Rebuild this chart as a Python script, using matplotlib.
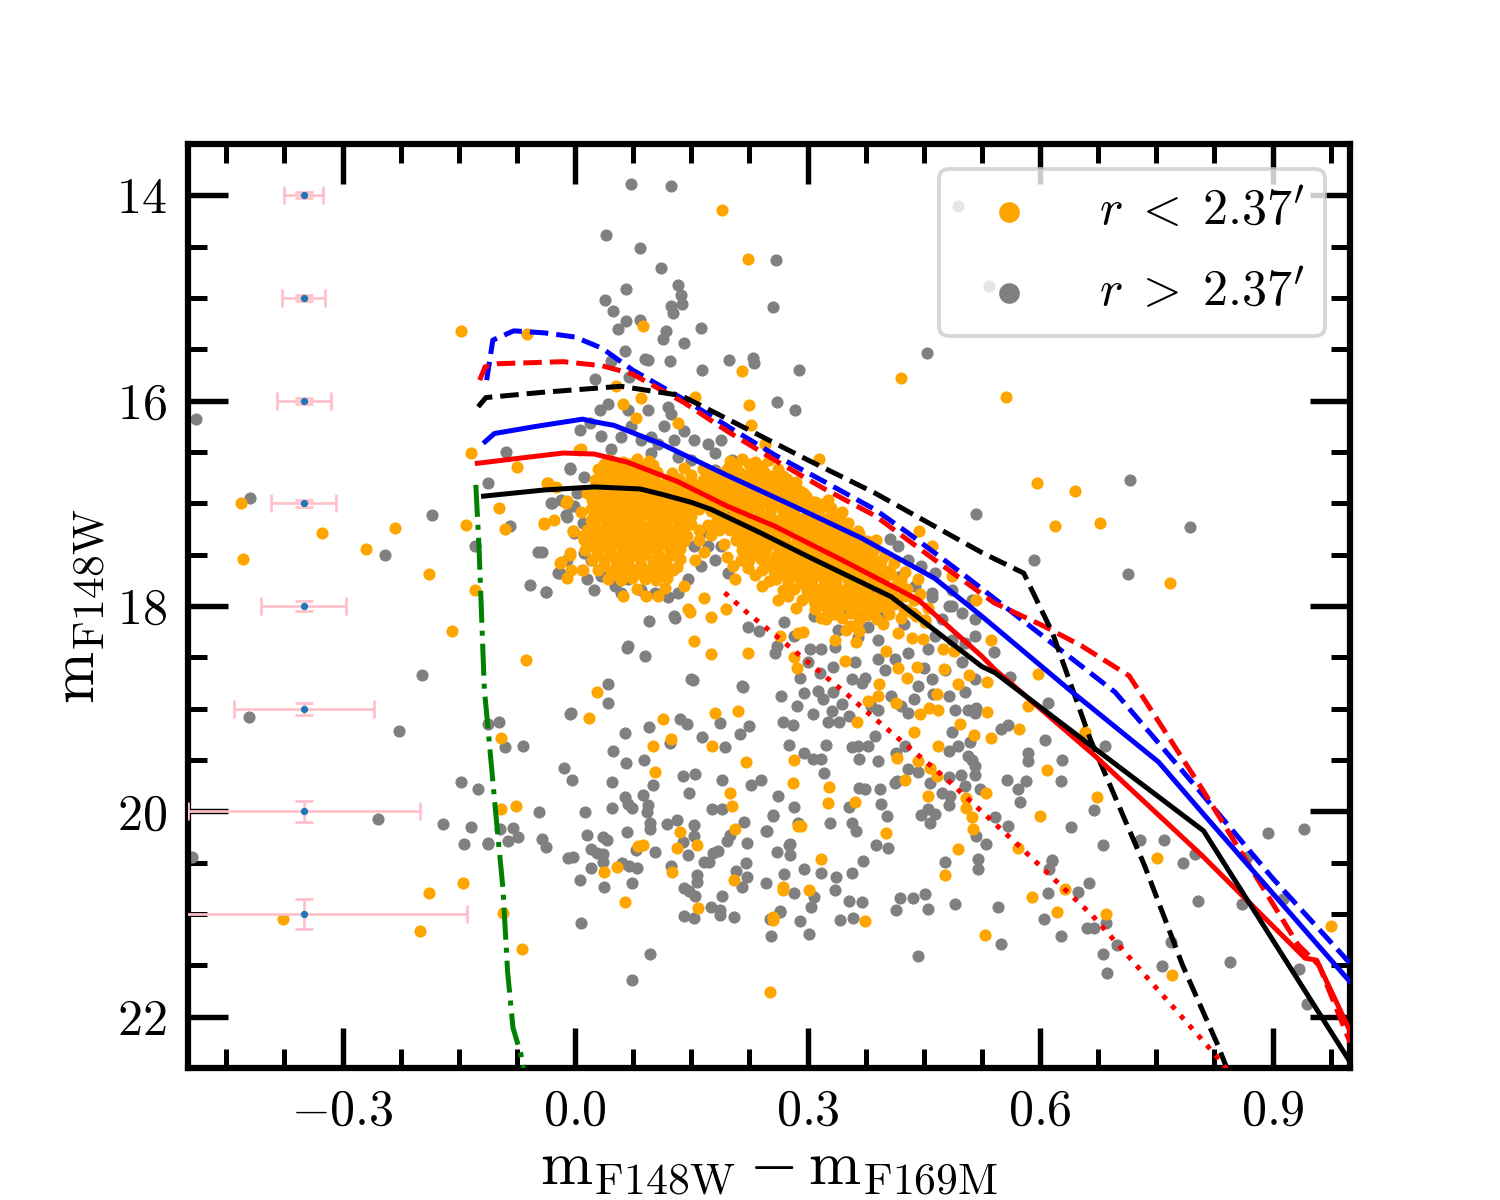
import numpy as np
import matplotlib
matplotlib.use("Agg")
import matplotlib.pyplot as plt
from matplotlib.ticker import MultipleLocator

plt.rcParams["font.family"] = "serif"
plt.rcParams["font.serif"] = ["cmr10"]
plt.rcParams["mathtext.fontset"] = "cm"
plt.rcParams["axes.formatter.use_mathtext"] = True

# ---- stars, r > 2.37' (gray) ----
gray_pts = [
    # upper part
    (0.072, 13.89), (0.124, 13.91), (0.040, 14.39), (0.084, 14.51), (0.111, 14.71), (0.133, 14.87),
    (0.137, 14.97), (0.138, 15.06), (0.124, 15.08), (0.127, 15.15), (0.066, 14.91), (0.039, 15.02),
    (0.049, 15.13), (0.066, 15.22), (0.056, 15.30), (0.084, 15.21), (0.118, 15.32), (0.114, 15.40),
    (0.140, 15.44), (0.163, 15.29), (0.259, 14.63), (0.255, 15.09), (0.064, 15.52), (0.046, 15.61),
    (0.090, 15.59), (0.094, 15.60), (0.123, 15.61), (0.164, 15.70), (0.199, 15.60), (0.230, 15.58),
    (0.231, 15.63), (0.289, 15.70), (0.454, 15.54), (0.026, 15.79), (0.070, 15.77), (0.261, 16.01),
    (0.284, 16.09), (0.494, 14.10), (0.534, 14.88),
    # right side
    (0.716, 16.77), (0.517, 17.10), (0.793, 17.23), (0.592, 17.55), (0.713, 17.69), (0.406, 17.35),
    (0.894, 20.21), (0.941, 20.17), (0.861, 20.90), (0.867, 20.44), (0.913, 20.85), (0.845, 21.47),
    (0.934, 21.54), (0.944, 21.88), (0.769, 21.27), (0.758, 21.51), (0.660, 21.14), (0.670, 21.14),
    (0.685, 21.09), (0.699, 21.30), (0.681, 21.39), (0.687, 21.57), (0.605, 21.05), (0.627, 21.21),
    (0.550, 21.29), (0.443, 21.41), (0.302, 21.19), (0.253, 21.21), (0.290, 21.07), (0.342, 21.06),
    (0.359, 21.04), (0.008, 21.09), (0.097, 21.39), (0.073, 21.64),
    # left side
    (-0.489, 16.18), (-0.089, 16.50), (-0.112, 16.80), (-0.420, 16.95), (-0.184, 17.11), (-0.245, 17.50),
    (-0.129, 17.42), (-0.084, 17.22), (-0.030, 17.00), (-0.010, 17.13), (-0.005, 17.03), (-0.048, 17.47),
    (-0.019, 17.68), (-0.058, 17.80), (-0.038, 17.86), (-0.007, 16.67), (-0.421, 19.08), (-0.227, 19.22),
    (-0.198, 18.67), (-0.254, 20.07), (-0.494, 20.44), (-0.112, 20.32),
    # lower left cloud
    (-0.112, 19.15), (-0.098, 19.13), (-0.090, 19.37), (-0.067, 19.36), (-0.014, 19.58), (-0.004, 19.69),
    (-0.147, 19.71), (-0.125, 19.78), (-0.046, 20.01), (-0.170, 20.12), (-0.134, 20.15), (-0.143, 20.32),
    (-0.112, 20.31), (-0.097, 20.17), (-0.080, 20.16), (-0.087, 20.29), (-0.073, 20.25), (-0.043, 20.27),
    (-0.037, 20.35), (0.013, 20.01), (0.048, 19.71), (0.048, 19.97), (0.064, 19.24), (0.095, 19.18),
    (0.066, 19.53), (0.089, 19.50), (0.049, 19.41), (0.064, 19.86), (0.068, 19.93), (0.073, 19.97),
    (0.088, 19.84), (0.094, 19.94), (0.093, 20.01), (0.097, 20.11), (0.097, 20.17), (0.067, 20.20),
    (0.016, 20.23), (0.036, 20.25), (0.041, 20.28), (0.021, 20.37), (0.028, 20.41), (0.036, 20.42),
    (-0.009, 20.45), (-0.002, 20.44), (0.020, 20.55), (0.036, 20.49), (0.007, 20.67), (0.037, 20.74),
    (0.073, 20.70), (0.061, 20.50), (0.070, 20.53), (0.080, 20.55), (0.079, 20.38), (0.103, 20.40),
    (0.122, 19.33), (0.136, 19.10), (0.144, 19.15), (0.164, 19.28), (0.187, 19.14), (0.193, 19.37),
    (0.213, 19.25), (0.225, 19.17), (0.240, 19.69), (0.227, 19.74), (0.190, 19.69), (0.218, 20.10),
    (0.139, 19.66), (0.155, 19.64), (0.147, 19.82), (0.177, 19.98), (0.190, 19.98), (0.100, 19.74),
    (0.119, 20.12), (0.132, 20.08), (0.153, 20.13), (0.139, 20.30), (0.154, 20.24), (0.146, 20.43),
    (0.167, 20.49), (0.173, 20.49), (0.178, 20.41), (0.184, 20.39), (0.196, 20.29), (0.200, 20.23),
    (0.222, 20.31), (0.220, 20.50), (0.208, 20.58), (0.222, 20.64), (0.215, 20.74), (0.124, 20.53),
    (0.157, 20.62), (0.157, 20.69), (0.140, 20.75), (0.147, 20.78), (0.155, 20.82), (0.190, 20.82),
    (0.175, 20.93), (0.187, 20.96), (0.187, 21.01), (0.205, 21.03), (0.141, 21.02), (0.153, 21.04),
    (0.251, 21.05), (0.264, 20.98), (0.278, 20.43), (0.276, 20.33), (0.255, 20.05), (0.248, 20.19),
    (0.247, 20.70),
    # lower middle cloud
    (0.268, 19.13), (0.281, 19.16), (0.340, 19.13), (0.326, 19.13), (0.387, 19.27), (0.276, 19.35),
    (0.324, 19.35), (0.357, 19.37), (0.296, 19.43), (0.307, 19.49), (0.318, 19.49), (0.365, 19.36),
    (0.378, 19.36), (0.366, 19.49), (0.391, 19.51), (0.414, 19.43), (0.426, 19.36), (0.482, 19.41),
    (0.494, 19.36), (0.486, 19.23), (0.510, 19.32), (0.507, 19.46), (0.550, 19.20), (0.559, 19.16),
    (0.512, 19.50), (0.516, 19.56), (0.430, 19.59), (0.443, 19.62), (0.416, 19.70), (0.458, 19.72),
    (0.482, 19.67), (0.498, 19.65), (0.516, 19.65), (0.503, 19.75), (0.473, 19.82), (0.484, 19.85),
    (0.456, 19.98), (0.447, 20.04), (0.464, 20.03), (0.458, 20.11), (0.482, 19.94), (0.518, 20.24),
    (0.530, 20.32), (0.522, 19.78), (0.542, 20.06), (0.559, 20.14), (0.615, 20.48), (0.611, 20.56),
    (0.477, 20.49), (0.520, 20.56), (0.585, 19.43), (0.585, 19.51), (0.558, 19.69), (0.572, 19.78),
    (0.582, 19.70), (0.574, 19.91), (0.606, 19.31), (0.627, 19.70), (0.629, 19.50), (0.670, 19.99),
    (0.640, 20.15), (0.681, 20.33), (0.729, 20.28), (0.760, 20.28), (0.785, 20.50), (0.800, 20.42),
    (0.663, 20.70), (0.649, 20.79), (0.610, 20.80), (0.616, 20.47), (0.546, 20.93), (0.804, 20.87),
    (0.490, 20.90), (0.255, 20.04), (0.247, 20.19), (0.262, 19.85), (0.283, 19.96), (0.288, 20.11),
    (0.277, 20.32), (0.260, 20.40), (0.329, 20.11), (0.321, 19.63), (0.353, 19.96), (0.357, 20.11),
    (0.362, 20.19), (0.367, 19.77), (0.374, 19.78), (0.393, 19.78), (0.413, 19.72), (0.395, 19.93),
    (0.389, 20.33), (0.404, 20.36), (0.402, 20.05), (0.371, 20.48), (0.357, 20.60), (0.337, 20.64),
    (0.318, 20.60), (0.296, 20.56), (0.270, 20.61), (0.283, 20.80), (0.309, 20.83), (0.335, 20.77),
    (0.353, 20.87), (0.370, 20.88), (0.419, 20.84), (0.436, 20.84), (0.451, 20.81), (0.414, 20.96),
    (0.456, 20.95), (0.264, 20.97), (0.305, 20.93), (0.520, 20.46),
    # clump below the band
    (0.516, 18.29), (0.540, 18.45), (0.561, 18.69), (0.610, 18.94), (0.684, 19.36), (0.518, 18.99),
    (0.270, 18.16), (0.260, 18.39), (0.303, 18.42), (0.318, 18.42), (0.266, 18.88), (0.286, 18.97),
    (0.307, 19.05), (0.331, 19.02), (0.314, 18.83), (0.320, 18.91), (0.333, 18.84), (0.333, 18.59),
    (0.354, 19.07), (0.357, 18.71), (0.370, 18.75), (0.374, 18.70), (0.382, 18.97), (0.391, 18.52),
    (0.391, 19.01), (0.408, 18.88), (0.421, 18.97), (0.430, 19.04), (0.438, 18.91), (0.443, 18.78),
    (0.460, 18.71), (0.462, 18.86), (0.482, 18.88), (0.490, 19.01), (0.507, 19.01), (0.516, 19.04),
    (0.503, 18.84), (0.477, 18.62), (0.456, 18.42), (0.464, 18.29), (0.486, 18.33), (0.503, 18.36),
    (0.499, 18.55), (0.516, 18.71), (0.460, 17.91), (0.482, 18.00), (0.473, 18.13), (0.430, 18.46),
    (0.413, 18.52), (0.391, 18.33), (0.378, 18.20), (0.395, 18.10), (0.370, 18.10), (0.348, 18.07),
    (0.327, 18.04), (0.309, 18.10), (0.339, 18.23), (0.283, 18.29), (0.301, 18.55), (0.316, 18.65),
    (0.361, 18.55), (0.425, 18.18), (0.290, 18.70), (0.345, 18.95), (0.400, 18.62), (0.450, 18.60),
    (0.335, 18.40), (0.365, 18.30), (0.295, 18.85),
    # around the main band
    (-0.007, 16.66), (-0.031, 17.00), (-0.042, 17.47), (-0.038, 17.86), (-0.012, 17.11), (0.012, 16.74),
    (0.003, 16.90), (0.010, 17.19), (0.021, 17.35), (0.034, 16.34), (0.006, 16.29), (0.019, 16.22),
    (0.032, 16.09), (0.042, 16.03), (0.059, 16.35), (0.047, 16.47), (0.072, 16.25), (0.085, 16.38),
    (0.098, 16.35), (0.107, 16.42), (0.115, 16.25), (0.124, 16.13), (0.128, 16.38), (0.141, 16.30),
    (0.120, 16.06), (0.094, 16.09), (0.068, 16.09), (0.154, 16.38), (0.171, 16.42), (0.189, 16.38),
    (0.180, 16.51), (0.202, 16.58), (0.232, 16.64), (0.253, 16.77), (0.279, 16.84), (0.292, 16.90),
    (0.301, 16.97), (0.309, 17.03), (0.335, 17.29), (0.340, 17.42), (0.348, 17.48), (0.365, 17.55),
    (0.383, 17.61), (0.404, 17.68), (0.421, 17.71), (0.439, 17.81), (0.460, 17.87), (0.486, 18.00),
    (0.215, 18.78), (0.150, 18.71), (0.042, 18.76), (0.042, 18.94), (-0.005, 19.04), (0.090, 18.49),
    (0.068, 18.39), (0.096, 18.15), (0.128, 18.10), (0.223, 18.20), (0.238, 18.24), (0.258, 18.46),
    (0.318, 17.87), (0.387, 17.87), (0.021, 17.55), (0.034, 17.71), (0.051, 17.81), (0.068, 17.74),
    (0.085, 17.84), (0.103, 17.87), (0.120, 17.91), (0.133, 17.87), (0.146, 17.74), (0.163, 17.61),
    (0.180, 17.55), (0.171, 17.42), (0.189, 17.42), (0.154, 17.42), (0.163, 17.29), (0.180, 17.23),
    (0.197, 17.13), (0.210, 17.35), (0.223, 17.48), (0.197, 17.68), (-0.001, 17.03), (-0.018, 16.97),
    (-0.001, 17.29), (0.012, 17.48), (-0.010, 17.55), (0.016, 17.74), (0.025, 17.84), (0.059, 17.87),
    (-0.022, 17.68), (0.042, 16.58), (0.064, 16.64), (0.098, 16.51), (0.133, 16.55), (0.150, 16.58),
    (0.180, 16.68), (0.215, 16.84), (0.249, 16.93), (0.275, 17.00), (0.223, 17.06), (0.417, 17.42),
    (0.430, 17.55), (0.447, 17.61), (0.465, 17.68), (0.486, 17.84), (0.512, 17.94), (0.516, 18.13),
    (0.499, 18.07), (-0.006, 19.05), (0.067, 18.41), (0.129, 18.12), (0.152, 18.72), (0.217, 18.79),
]

# ---- stars, r < 2.37' (orange), scattered ones ----
orange_pts = [
    (0.190, 14.14), (0.223, 14.62), (0.088, 15.27), (0.216, 15.71), (0.420, 15.78), (0.155, 15.96),
    (0.225, 16.04), (0.053, 15.86), (0.556, 15.96), (0.315, 16.57), (0.596, 16.80), (0.645, 16.88),
    (0.619, 17.22), (0.677, 17.19), (0.768, 17.78), (0.444, 17.27), (0.085, 15.97), (0.062, 16.03),
    (-0.147, 15.32), (-0.062, 15.35), (-0.134, 16.51), (-0.075, 16.65), (-0.431, 17.00), (-0.326, 17.29),
    (-0.232, 17.24), (-0.428, 17.54), (-0.270, 17.44), (-0.188, 17.69), (-0.141, 17.21), (-0.129, 17.84),
    (-0.090, 17.25), (-0.098, 17.05), (-0.010, 16.98), (-0.040, 17.20), (-0.027, 17.16), (-0.002, 17.27),
    (-0.019, 17.58), (-0.007, 17.50), (-0.005, 17.65), (0.009, 17.65), (-0.010, 17.73), (0.005, 16.48),
    (-0.036, 16.80), (-0.159, 18.24), (-0.063, 18.53), (-0.377, 21.05), (-0.200, 21.17), (-0.188, 20.80),
    (-0.144, 20.70), (-0.096, 19.29), (-0.096, 19.98), (-0.076, 19.95), (-0.093, 20.99), (-0.069, 21.34),
    (0.037, 20.59), (0.054, 20.54), (0.064, 20.88), (0.081, 20.34), (0.088, 20.33), (0.114, 19.10),
    (0.101, 19.36), (0.103, 19.62), (0.124, 19.30), (0.177, 19.36), (0.220, 19.52), (0.200, 19.82),
    (0.202, 19.95), (0.206, 20.17), (0.135, 20.20), (0.132, 20.36), (0.158, 20.33), (0.205, 20.67),
    (0.125, 20.59), (0.159, 20.94), (0.256, 21.06), (0.281, 19.72), (0.282, 19.50), (0.269, 20.74),
    (0.288, 20.14), (0.364, 19.13), (0.438, 19.23), (0.469, 19.36), (0.497, 19.15), (0.537, 19.29),
    (0.573, 19.20), (0.515, 19.26), (0.443, 19.51), (0.458, 19.58), (0.467, 19.66), (0.426, 19.69),
    (0.416, 19.48), (0.455, 19.85), (0.505, 19.87), (0.504, 19.97), (0.512, 20.06), (0.513, 20.17),
    (0.530, 19.82), (0.571, 20.36), (0.494, 20.37), (0.477, 20.62), (0.600, 20.05), (0.609, 19.60),
    (0.674, 19.86), (0.751, 20.45), (0.632, 20.76), (0.622, 20.98), (0.590, 20.83), (0.685, 21.00),
    (0.292, 20.14), (0.327, 19.92), (0.328, 19.76), (0.361, 19.91), (0.401, 20.21), (0.317, 20.46),
    (0.268, 20.77), (0.302, 20.77), (0.255, 21.03), (0.537, 18.33), (0.597, 18.66), (0.532, 18.74),
    (0.585, 18.97), (0.658, 19.23), (0.532, 19.03), (0.283, 18.50), (0.286, 18.60), (0.264, 18.29),
    (0.294, 18.25), (0.336, 18.33), (0.348, 18.54), (0.350, 18.23), (0.367, 18.24), (0.362, 18.35),
    (0.401, 18.44), (0.417, 18.60), (0.428, 18.70), (0.441, 18.59), (0.435, 18.31), (0.449, 18.32),
    (0.417, 18.26), (0.392, 18.76), (0.391, 18.88), (0.378, 18.93), (0.414, 18.94), (0.445, 19.05),
    (0.457, 18.99), (0.469, 19.01), (0.467, 18.86), (0.476, 18.61), (0.494, 18.76), (0.509, 18.67),
    (0.489, 18.44), (0.475, 18.42), (0.451, 18.16), (0.425, 18.04), (0.975, 21.12), (0.770, 21.59),
    (0.529, 21.20), (0.252, 21.76), (0.374, 21.07), (0.133, 16.22), (0.079, 16.17), (0.227, 16.24),
    (0.245, 16.42), (0.294, 16.90), (0.327, 16.97), (0.344, 17.08), (0.460, 17.42), (0.486, 17.71),
    (0.518, 17.94), (0.443, 17.74), (0.008, 16.47), (-0.040, 17.19), (-0.035, 16.80), (-0.025, 16.84),
    (-0.012, 17.00), (-0.003, 17.27), (-0.007, 17.48), (-0.018, 17.57), (0.010, 17.65), (0.062, 17.90),
    (0.092, 17.90), (0.107, 17.90), (0.141, 17.81), (0.146, 18.03), (0.167, 17.92), (0.176, 18.11),
    (0.195, 18.03), (0.206, 17.74), (0.223, 17.63), (0.241, 17.81), (0.262, 17.94), (0.288, 18.26),
    (0.154, 18.34), (0.176, 18.47), (0.223, 18.46), (0.029, 18.84), (0.018, 19.09), (0.180, 19.04),
    (0.210, 19.02), (0.148, 18.06),
    # inside the gap of the band and along its ragged edges
    (0.160, 17.36), (0.176, 17.31), (0.192, 17.40), (0.167, 17.47), (0.196, 17.52), (0.171, 17.21),
    (0.186, 17.26), (0.204, 17.61), (0.155, 17.55), (0.132, 17.62), (0.116, 17.82), (0.080, 17.83),
    (0.140, 16.66), (0.125, 16.70), (0.150, 16.72), (0.268, 16.73), (0.298, 16.93), (0.318, 17.01),
    (0.352, 17.19), (0.365, 17.27), (0.388, 17.36), (0.400, 17.50), (0.412, 17.58), (0.426, 17.67),
    (0.445, 17.88), (0.455, 18.02), (0.440, 18.10), (0.398, 18.18), (0.355, 18.19), (0.318, 18.12),
    (0.285, 18.02), (0.275, 17.90), (0.250, 17.76), (0.232, 17.70), (0.214, 17.55), (0.008, 17.08),
    (0.010, 17.32), (0.016, 16.90), (0.038, 16.62), (0.100, 16.63),
]

# ---- orange, dense main-sequence band (rows) ----
orange_band = [
    (0.045, 16.58), (0.062, 16.60), (0.080, 16.57), (0.095, 16.59), (0.200, 16.59), (0.216, 16.57),
    (0.232, 16.60), (0.250, 16.58),
    (0.030, 16.67), (0.046, 16.69), (0.061, 16.67), (0.077, 16.69), (0.093, 16.67), (0.106, 16.69),
    (0.165, 16.67), (0.181, 16.69), (0.196, 16.67), (0.212, 16.69), (0.228, 16.67), (0.244, 16.69),
    (0.262, 16.67),
    (0.026, 16.77), (0.041, 16.76), (0.057, 16.78), (0.072, 16.77), (0.088, 16.76), (0.103, 16.78),
    (0.119, 16.77), (0.134, 16.76), (0.150, 16.78), (0.165, 16.77), (0.181, 16.76), (0.196, 16.78),
    (0.212, 16.77), (0.227, 16.76), (0.243, 16.78), (0.258, 16.77), (0.274, 16.76), (0.285, 16.79),
    (0.024, 16.87), (0.040, 16.86), (0.055, 16.88), (0.071, 16.87), (0.086, 16.86), (0.102, 16.88),
    (0.117, 16.87), (0.133, 16.86), (0.148, 16.88), (0.164, 16.87), (0.179, 16.86), (0.195, 16.88),
    (0.210, 16.87), (0.226, 16.86), (0.241, 16.88), (0.257, 16.87), (0.272, 16.86), (0.290, 16.88),
    (0.022, 16.97), (0.037, 16.96), (0.053, 16.98), (0.068, 16.97), (0.084, 16.96), (0.099, 16.98),
    (0.115, 16.97), (0.130, 16.96), (0.146, 16.98), (0.161, 16.97), (0.177, 16.96), (0.192, 16.98),
    (0.208, 16.97), (0.223, 16.96), (0.239, 16.98), (0.254, 16.97), (0.270, 16.96), (0.285, 16.98),
    (0.300, 16.97), (0.310, 16.99),
    (0.020, 17.06), (0.036, 17.07), (0.051, 17.05), (0.067, 17.06), (0.082, 17.07), (0.098, 17.05),
    (0.113, 17.06), (0.129, 17.07), (0.144, 17.05), (0.160, 17.06), (0.175, 17.07), (0.191, 17.05),
    (0.206, 17.06), (0.222, 17.07), (0.237, 17.05), (0.253, 17.06), (0.268, 17.07), (0.284, 17.05),
    (0.299, 17.06), (0.315, 17.07), (0.330, 17.05),
    (0.021, 17.16), (0.037, 17.15), (0.052, 17.17), (0.068, 17.16), (0.083, 17.15), (0.099, 17.17),
    (0.114, 17.16), (0.130, 17.15), (0.145, 17.17), (0.183, 17.16), (0.198, 17.15), (0.214, 17.17),
    (0.229, 17.16), (0.245, 17.15), (0.260, 17.17), (0.276, 17.16), (0.291, 17.15), (0.307, 17.17),
    (0.322, 17.16), (0.340, 17.15),
    (0.016, 17.26), (0.032, 17.27), (0.047, 17.25), (0.063, 17.26), (0.078, 17.27), (0.094, 17.25),
    (0.109, 17.26), (0.125, 17.27), (0.140, 17.25), (0.160, 17.26), (0.200, 17.26), (0.216, 17.27),
    (0.231, 17.25), (0.247, 17.26), (0.262, 17.27), (0.278, 17.25), (0.293, 17.26), (0.309, 17.27),
    (0.324, 17.25), (0.340, 17.26), (0.352, 17.28),
    (0.012, 17.36), (0.028, 17.35), (0.043, 17.37), (0.059, 17.36), (0.074, 17.35), (0.090, 17.37),
    (0.105, 17.36), (0.121, 17.35), (0.140, 17.37), (0.208, 17.36), (0.224, 17.35), (0.239, 17.37),
    (0.255, 17.36), (0.270, 17.35), (0.286, 17.37), (0.301, 17.36), (0.317, 17.35), (0.332, 17.37),
    (0.348, 17.36), (0.363, 17.35), (0.377, 17.37),
    (0.013, 17.45), (0.029, 17.46), (0.044, 17.44), (0.060, 17.45), (0.075, 17.46), (0.091, 17.44),
    (0.106, 17.45), (0.122, 17.46), (0.136, 17.44), (0.216, 17.45), (0.232, 17.46), (0.247, 17.44),
    (0.263, 17.45), (0.278, 17.46), (0.294, 17.44), (0.309, 17.45), (0.325, 17.46), (0.340, 17.44),
    (0.356, 17.45), (0.371, 17.46), (0.386, 17.44),
    (0.022, 17.55), (0.038, 17.54), (0.053, 17.56), (0.069, 17.55), (0.084, 17.54), (0.100, 17.56),
    (0.115, 17.55), (0.135, 17.54), (0.224, 17.55), (0.240, 17.54), (0.255, 17.56), (0.271, 17.55),
    (0.286, 17.54), (0.302, 17.56), (0.317, 17.55), (0.333, 17.54), (0.348, 17.56), (0.364, 17.55),
    (0.379, 17.54), (0.395, 17.56),
    (0.030, 17.65), (0.046, 17.66), (0.061, 17.64), (0.077, 17.65), (0.092, 17.66), (0.108, 17.64),
    (0.127, 17.65), (0.241, 17.65), (0.257, 17.66), (0.272, 17.64), (0.288, 17.65), (0.303, 17.66),
    (0.319, 17.64), (0.334, 17.65), (0.350, 17.66), (0.365, 17.64), (0.381, 17.65), (0.403, 17.66),
    (0.043, 17.74), (0.059, 17.75), (0.074, 17.73), (0.090, 17.74), (0.105, 17.75), (0.119, 17.73),
    (0.259, 17.74), (0.275, 17.75), (0.290, 17.73), (0.306, 17.74), (0.321, 17.75), (0.337, 17.73),
    (0.352, 17.74), (0.368, 17.75), (0.383, 17.73), (0.399, 17.74), (0.420, 17.75),
    (0.268, 17.84), (0.283, 17.83), (0.299, 17.85), (0.314, 17.84), (0.330, 17.83), (0.345, 17.85),
    (0.361, 17.84), (0.376, 17.83), (0.392, 17.85), (0.407, 17.84), (0.429, 17.83),
    (0.293, 17.94), (0.309, 17.95), (0.324, 17.93), (0.340, 17.94), (0.355, 17.95), (0.371, 17.93),
    (0.386, 17.94), (0.402, 17.95), (0.417, 17.93), (0.438, 17.94),
    (0.310, 18.03), (0.326, 18.04), (0.341, 18.02), (0.357, 18.03), (0.372, 18.04), (0.388, 18.02),
    (0.403, 18.03), (0.429, 18.04),
    (0.324, 18.13), (0.345, 18.12), (0.367, 18.14), (0.390, 18.13), (0.420, 18.12), (0.451, 18.14),
]

# ---- orange, dense band (stars sitting between the rows above) ----
orange_band_mid = [
    (0.053, 16.63), (0.070, 16.62), (0.086, 16.64), (0.208, 16.63), (0.224, 16.62), (0.241, 16.64),
    (0.038, 16.72), (0.053, 16.73), (0.069, 16.71), (0.085, 16.72), (0.100, 16.73), (0.173, 16.72),
    (0.189, 16.71), (0.204, 16.73), (0.220, 16.72), (0.236, 16.71), (0.252, 16.73),
    (0.033, 16.82), (0.049, 16.81), (0.064, 16.83), (0.080, 16.82), (0.095, 16.81), (0.111, 16.83),
    (0.126, 16.82), (0.142, 16.81), (0.157, 16.83), (0.173, 16.82), (0.188, 16.81), (0.204, 16.83),
    (0.219, 16.82), (0.235, 16.81), (0.250, 16.83), (0.266, 16.82), (0.280, 16.81),
    (0.032, 16.92), (0.047, 16.91), (0.063, 16.93), (0.078, 16.92), (0.094, 16.91), (0.109, 16.93),
    (0.125, 16.92), (0.140, 16.91), (0.156, 16.93), (0.171, 16.92), (0.187, 16.91), (0.202, 16.93),
    (0.218, 16.92), (0.233, 16.91), (0.249, 16.93), (0.264, 16.92), (0.280, 16.91), (0.295, 16.93),
    (0.028, 17.01), (0.044, 17.02), (0.059, 17.00), (0.075, 17.01), (0.090, 17.02), (0.106, 17.00),
    (0.121, 17.01), (0.137, 17.02), (0.152, 17.00), (0.168, 17.01), (0.183, 17.02), (0.199, 17.00),
    (0.214, 17.01), (0.230, 17.02), (0.245, 17.00), (0.261, 17.01), (0.276, 17.02), (0.292, 17.00),
    (0.307, 17.01), (0.322, 17.02),
    (0.028, 17.11), (0.044, 17.10), (0.059, 17.12), (0.075, 17.11), (0.090, 17.10), (0.106, 17.12),
    (0.121, 17.11), (0.137, 17.10), (0.150, 17.12), (0.190, 17.11), (0.206, 17.10), (0.221, 17.12),
    (0.237, 17.11), (0.252, 17.10), (0.268, 17.12), (0.283, 17.11), (0.299, 17.10), (0.314, 17.12),
    (0.330, 17.11),
    (0.024, 17.21), (0.040, 17.22), (0.055, 17.20), (0.071, 17.21), (0.086, 17.22), (0.102, 17.20),
    (0.117, 17.21), (0.133, 17.22), (0.150, 17.20), (0.192, 17.21), (0.207, 17.22), (0.223, 17.20),
    (0.238, 17.21), (0.254, 17.22), (0.269, 17.20), (0.285, 17.21), (0.300, 17.22), (0.316, 17.20),
    (0.331, 17.21), (0.346, 17.22),
    (0.020, 17.31), (0.036, 17.30), (0.051, 17.32), (0.067, 17.31), (0.082, 17.30), (0.098, 17.32),
    (0.113, 17.31), (0.129, 17.30), (0.145, 17.32), (0.210, 17.31), (0.228, 17.30), (0.243, 17.32),
    (0.259, 17.31), (0.274, 17.30), (0.290, 17.32), (0.305, 17.31), (0.321, 17.30), (0.336, 17.32),
    (0.352, 17.31), (0.366, 17.30),
    (0.021, 17.40), (0.037, 17.41), (0.052, 17.39), (0.068, 17.40), (0.083, 17.41), (0.099, 17.39),
    (0.114, 17.40), (0.130, 17.41), (0.216, 17.40), (0.228, 17.41), (0.243, 17.39), (0.259, 17.40),
    (0.274, 17.41), (0.290, 17.39), (0.305, 17.40), (0.321, 17.41), (0.336, 17.39), (0.352, 17.40),
    (0.367, 17.41), (0.380, 17.39),
    (0.030, 17.50), (0.046, 17.49), (0.061, 17.51), (0.077, 17.50), (0.092, 17.49), (0.108, 17.51),
    (0.125, 17.50), (0.228, 17.50), (0.244, 17.49), (0.259, 17.51), (0.275, 17.50), (0.290, 17.49),
    (0.306, 17.51), (0.321, 17.50), (0.337, 17.49), (0.352, 17.51), (0.368, 17.50), (0.383, 17.49),
    (0.038, 17.60), (0.054, 17.61), (0.069, 17.59), (0.085, 17.60), (0.100, 17.61), (0.118, 17.59),
    (0.248, 17.60), (0.264, 17.61), (0.279, 17.59), (0.295, 17.60), (0.310, 17.61), (0.326, 17.59),
    (0.341, 17.60), (0.357, 17.61), (0.372, 17.59), (0.388, 17.60),
    (0.051, 17.69), (0.067, 17.70), (0.082, 17.68), (0.098, 17.69), (0.113, 17.70), (0.266, 17.69),
    (0.282, 17.70), (0.297, 17.68), (0.313, 17.69), (0.328, 17.70), (0.344, 17.68), (0.359, 17.69),
    (0.375, 17.70), (0.390, 17.68), (0.408, 17.69),
    (0.275, 17.79), (0.291, 17.78), (0.306, 17.80), (0.322, 17.79), (0.337, 17.78), (0.353, 17.80),
    (0.368, 17.79), (0.384, 17.78), (0.399, 17.80), (0.415, 17.79),
    (0.300, 17.89), (0.316, 17.88), (0.331, 17.90), (0.347, 17.89), (0.362, 17.88), (0.378, 17.90),
    (0.393, 17.89), (0.409, 17.88), (0.425, 17.90),
    (0.317, 17.98), (0.333, 17.99), (0.348, 17.97), (0.364, 17.98), (0.380, 17.99), (0.395, 17.97),
    (0.411, 17.98),
    (0.334, 18.08), (0.356, 18.07), (0.378, 18.09), (0.405, 18.08), (0.436, 18.07),
]

# ---- model curves ----
blue_dash_x = [-0.114, -0.106, -0.079, -0.039, 0.0, 0.035, 0.074, 0.141, 0.197, 0.258, 0.322, 0.387,
               0.430, 0.499, 0.697, 0.80, 0.90, 1.0]
blue_dash_y = [15.80, 15.41, 15.32, 15.34, 15.38, 15.49, 15.70, 15.99, 16.25, 16.53, 16.79, 17.06,
               17.29, 17.68, 18.84, 19.75, 20.65, 21.48]

red_dash_x = [-0.123, -0.116, -0.099, -0.015, 0.035, 0.074, 0.141, 0.197, 0.258, 0.322, 0.387, 0.464,
              0.541, 0.606, 0.654, 0.715, 0.809, 0.933, 0.960, 1.0]
red_dash_y = [15.80, 15.67, 15.64, 15.62, 15.66, 15.74, 16.02, 16.30, 16.58, 16.86, 17.12, 17.55,
              17.97, 18.20, 18.39, 18.68, 19.78, 21.30, 21.50, 22.25]

black_dash_x = [-0.125, -0.115, -0.044, 0.059, 0.137, 0.197, 0.301, 0.387, 0.525, 0.579, 0.616, 0.665,
                0.735, 0.784, 0.829, 0.842]
black_dash_y = [16.06, 15.97, 15.92, 15.86, 15.95, 16.18, 16.58, 16.90, 17.48, 17.68, 18.26, 19.30,
                20.53, 21.50, 22.27, 22.52]

blue_x = [-0.116, -0.104, -0.050, 0.010, 0.021, 0.050, 0.111, 0.197, 0.283, 0.370, 0.464, 0.525,
          0.637, 0.753, 0.809, 1.0]
blue_y = [16.40, 16.32, 16.25, 16.18, 16.20, 16.24, 16.42, 16.73, 17.03, 17.34, 17.73, 18.10,
          18.81, 19.52, 20.01, 21.66]

red_x = [-0.126, -0.060, -0.015, 0.025, 0.068, 0.133, 0.197, 0.257, 0.344, 0.443, 0.525, 0.542,
         0.671, 0.809, 0.942, 0.957, 1.0]
red_y = [16.61, 16.55, 16.51, 16.52, 16.60, 16.79, 17.03, 17.22, 17.55, 17.94, 18.49, 18.62,
         19.46, 20.43, 21.43, 21.45, 22.14]

black_x = [-0.118, -0.040, 0.025, 0.084, 0.111, 0.150, 0.176, 0.240, 0.301, 0.408, 0.525, 0.542,
           0.671, 0.811, 1.0]
black_y = [16.93, 16.87, 16.84, 16.86, 16.91, 16.99, 17.06, 17.29, 17.52, 17.91, 18.59, 18.65,
           19.39, 20.19, 22.44]

red_dot_x = [0.193, 0.223, 0.266, 0.322, 0.348, 0.378, 0.477, 0.572, 0.667, 0.826, 0.842]
red_dot_y = [17.87, 18.07, 18.33, 18.68, 18.84, 19.04, 19.67, 20.33, 21.01, 22.37, 22.52]

green_x = [-0.128, -0.124, -0.120, -0.117, -0.113, -0.102, -0.093, -0.087, -0.080, -0.070, -0.066]
green_y = [16.82, 17.40, 18.20, 18.81, 19.13, 20.04, 20.75, 21.56, 22.11, 22.36, 22.52]

# ---- photometric errors ----
err_mag = [14, 15, 16, 17, 18, 19, 20, 21]
err_col = [0.025, 0.028, 0.035, 0.042, 0.055, 0.090, 0.150, 0.210]
err_magerr = [0.03, 0.03, 0.03, 0.035, 0.045, 0.06, 0.10, 0.15]
err_xpos = -0.35

gray_arr = np.array(gray_pts)
orange_arr = np.array(orange_pts + orange_band + orange_band_mid)

fig, ax = plt.subplots(figsize=(10, 8), dpi=150)

msize = 34
sc_g = ax.scatter(gray_arr[:, 0], gray_arr[:, 1], s=msize, color="gray", linewidths=0, zorder=2)
sc_o = ax.scatter(orange_arr[:, 0], orange_arr[:, 1], s=msize, color="orange", linewidths=0, zorder=3)

lw = 2.4
ax.plot(blue_dash_x, blue_dash_y, color="blue", ls="--", lw=lw, zorder=4)
ax.plot(red_dash_x, red_dash_y, color="red", ls="--", lw=lw, zorder=4)
ax.plot(black_dash_x, black_dash_y, color="black", ls="--", lw=lw, zorder=4)
ax.plot(blue_x, blue_y, color="blue", ls="-", lw=lw, zorder=4)
ax.plot(red_x, red_y, color="red", ls="-", lw=lw, zorder=4)
ax.plot(black_x, black_y, color="black", ls="-", lw=lw, zorder=4)
ax.plot(red_dot_x, red_dot_y, color="red", ls=":", lw=lw, zorder=4)
ax.plot(green_x, green_y, color="green", ls="-.", lw=lw, zorder=4)

ax.errorbar([err_xpos] * len(err_mag), err_mag, xerr=err_col, yerr=err_magerr, fmt="o",
            ms=2.5, color="#1f77b4", ecolor="pink", elinewidth=1.3, capsize=4.5,
            capthick=1.3, zorder=5)

ax.set_xlim(-0.5, 1.0)
ax.set_ylim(22.5, 13.5)
ax.xaxis.set_major_locator(MultipleLocator(0.3))
ax.xaxis.set_minor_locator(MultipleLocator(0.075))
ax.yaxis.set_major_locator(MultipleLocator(2))
ax.yaxis.set_minor_locator(MultipleLocator(0.5))
ax.tick_params(which="both", direction="in", top=True, right=True, labelsize=24)
ax.tick_params(which="major", length=19, width=2.6, pad=10)
ax.tick_params(which="minor", length=9, width=2.4)
for sp in ax.spines.values():
    sp.set_linewidth(3)

ax.set_xlabel(r"$\mathrm{m_{F148W} - m_{F169M}}$", fontsize=30)
ax.set_ylabel(r"$\mathrm{m_{F148W}}$", fontsize=30)

leg = ax.legend([sc_o, sc_g], [r"$r \;<\; 2.37'$", r"$r \;>\; 2.37'$"], loc="upper right",
                fontsize=24, markerscale=1.7, scatterpoints=1, labelspacing=0.7)
leg.get_frame().set_linewidth(1.8)

fig.savefig("out.png", dpi=150)
